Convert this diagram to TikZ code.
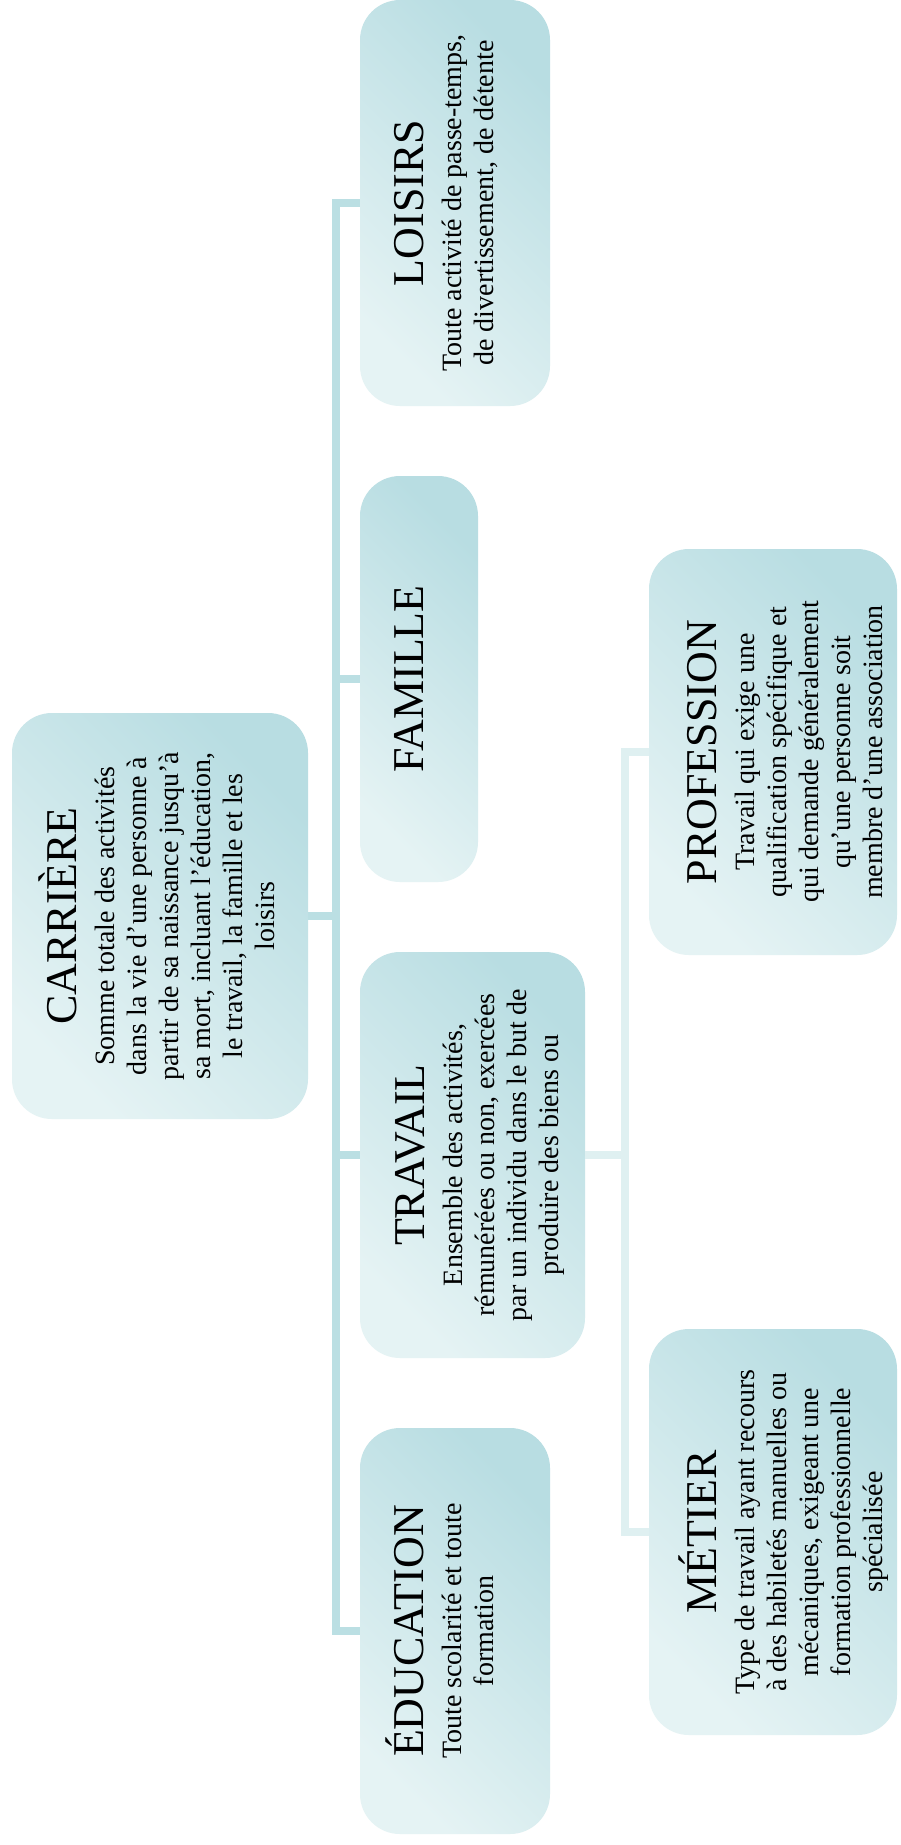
\documentclass[tikz,border=0pt]{standalone}
\usepackage{fontspec}
\setmainfont{Liberation Serif}
\definecolor{dk}{HTML}{B8DDE2}
\definecolor{lt}{HTML}{E5F3F4}
\definecolor{ln}{HTML}{BBDFE3}
\definecolor{lnb}{HTML}{DFF0F1}
\tikzset{
  box/.style={rectangle, rounded corners=40pt, top color=dk, bottom color=lt, shading angle=-45, inner sep=0pt},
  txt/.style={rotate=90, anchor=north, align=center, inner sep=0pt, font=\fontsize{28}{32}\selectfont},
  conn/.style={draw=ln, line width=8pt},
  connb/.style={draw=lnb, line width=8pt},
}
\newcommand{\ttl}[1]{{\fontsize{44}{48}\selectfont\smash{#1}\vphantom{E}}}
\begin{document}
\begin{tikzpicture}[x=1pt,y=-1pt]
\fill[white] (0,0) rectangle (900,1845);
\useasboundingbox (0,0) rectangle (900,1845);
% boxes
\node[box, minimum width=296pt, minimum height=406pt] (carriere) at (160,916) {};
\node[box, minimum width=190pt, minimum height=406pt] (loisirs) at (455,203) {};
\node[box, minimum width=118pt, minimum height=406pt] (famille) at (419,679) {};
\node[box, minimum width=225pt, minimum height=406pt] (travail) at (472.5,1155) {};
\node[box, minimum width=190pt, minimum height=406pt] (education) at (455,1631) {};
\node[box, minimum width=248pt, minimum height=406pt] (profession) at (773,752) {};
\node[box, minimum width=248pt, minimum height=406pt] (metier) at (773,1532) {};
% connectors
\coordinate (tT) at (336,203);
\coordinate (tB) at (336,1631);
\draw[conn] (loisirs.west) -- (tT) -- (tB) -- (education.west);
\draw[conn] (famille.west) -- (famille.west -| tT);
\draw[conn] (travail.west) -- (travail.west -| tT);
\draw[conn] (carriere.east) -- (carriere.east -| tT);
\coordinate (sT) at (625,752);
\coordinate (sB) at (625,1532);
\draw[connb] (profession.west) -- (sT) -- (sB) -- (metier.west);
\draw[connb] (travail.east) -- (travail.east -| sT);
% texts
\node[txt] (carriereT) at (47,916) {\ttl{CARRIÈRE}\\[6pt]Somme totale des activités\\dans la vie d’une personne à\\partir de sa naissance jusqu’à\\sa mort, incluant l’éducation,\\le travail, la famille et les\\loisirs};
\node[txt] (loisirsT) at (394,203) {\ttl{LOISIRS}\\[6pt]Toute activité de passe-temps,\\de divertissement, de détente};
\node[txt] (familleT) at (394,679) {\ttl{FAMILLE}};
\node[txt] (travailT) at (395,1155) {\ttl{TRAVAIL}\\[6pt]Ensemble des activités,\\rémunérées ou non, exercées\\par un individu dans le but de\\produire des biens ou};
\node[txt] (educationT) at (394,1631) {\ttl{ÉDUCATION}\\[6pt]Toute scolarité et toute\\formation};
\node[txt] (professionT) at (687,752) {\ttl{PROFESSION}\\[6pt]Travail qui exige une\\qualification spécifique et\\qui demande généralement\\qu’une personne soit\\membre d’une association};
\node[txt] (metierT) at (687,1532) {\ttl{MÉTIER}\\[6pt]Type de travail ayant recours\\à des habiletés manuelles ou\\mécaniques, exigeant une\\formation professionnelle\\spécialisée};
\end{tikzpicture}
\end{document}
